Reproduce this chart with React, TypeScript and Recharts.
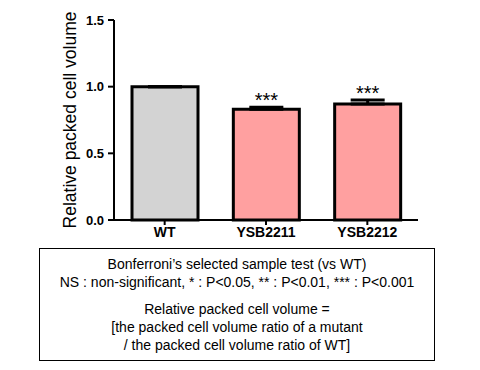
import * as React from "react";
import { BarChart, Bar, XAxis, YAxis, ErrorBar, LabelList, Label, Cell } from "recharts";

const strains = ["WT", "YSB2211", "YSB2212"];
const pcvValues = [1.0, 0.83, 0.87];
const pcvErrors = [0, 0.015, 0.03];
const significance = ["", "***", "***"];
const barColors = ["#d3d3d3", "#ffa0a0", "#ffa0a0"];
const yTicks = [0, 0.5, 1.0, 1.5];

const noteLines1 = [
  "Bonferroni\u2019s selected sample test (vs WT)",
  "NS : non-significant, * : P<0.05, ** : P<0.01, *** : P<0.001",
];
const noteLines2 = [
  "Relative packed cell volume =",
  "[the packed cell volume ratio of a mutant",
  "/ the packed cell volume ratio of WT]",
];

const chartData = strains.map((name, i) => ({
  name,
  value: pcvValues[i],
  err: [0, pcvErrors[i]],
  sig: significance[i],
}));

const font = "'Liberation Sans', Arial, sans-serif";

function StarLabel(props: any) {
  const { x, y, width, height, value, index } = props;
  if (!value) return null;
  const v = pcvValues[index];
  const errPx = (pcvErrors[index] / v) * height;
  return (
    <text
      x={x + width / 2}
      y={y - errPx}
      textAnchor="middle"
      fontFamily={font}
      fontSize={20}
      fill="#000"
    >
      {value}
    </text>
  );
}

export default function App() {
  return (
    <div style={{ position: "absolute", left: 0, top: 0, width: 480, height: 370, background: "#fff" }}>
      <BarChart
        width={480}
        height={250}
        data={chartData}
        margin={{ top: 20, right: 62, left: 0, bottom: 0 }}
        barSize={66}
      >
        <XAxis
          dataKey="name"
          height={30}
          axisLine={{ stroke: "#000", strokeWidth: 2 }}
          tickLine={{ stroke: "#000", strokeWidth: 2 }}
          tickSize={5}
          tick={{ fill: "#000", fontFamily: font, fontSize: 14, fontWeight: "bold" }}
        />
        <YAxis
          width={114}
          domain={[0, 1.5]}
          ticks={yTicks}
          tickFormatter={(v: number) => v.toFixed(1)}
          axisLine={{ stroke: "#000", strokeWidth: 2 }}
          tickLine={{ stroke: "#000", strokeWidth: 2 }}
          tickSize={6}
          tickMargin={4}
          tick={{ fill: "#000", fontFamily: font, fontSize: 13, fontWeight: "bold" }}
        >
          <Label
            value="Relative packed cell volume"
            angle={-90}
            position="center"
            dx={13}
            style={{ fill: "#000", fontFamily: font, fontSize: 17.5, textAnchor: "middle" }}
          />
        </YAxis>
        <Bar dataKey="value" stroke="#000" strokeWidth={3} isAnimationActive={false}>
          {chartData.map((d, i) => (
            <Cell key={d.name} fill={barColors[i]} />
          ))}
          <ErrorBar dataKey="err" width={17} stroke="#000" strokeWidth={3} direction="y" />
          <LabelList dataKey="sig" content={<StarLabel />} />
        </Bar>
      </BarChart>
      <div
        style={{
          position: "absolute",
          left: 39,
          top: 248,
          width: 396,
          height: 113,
          border: "1px solid #000",
          boxSizing: "border-box",
          fontFamily: font,
          fontSize: 14,
          color: "#000",
          textAlign: "center",
          lineHeight: "18px",
          paddingTop: 6,
        }}
      >
        {noteLines1.map((t) => (
          <div key={t}>{t}</div>
        ))}
        <div style={{ height: 9 }} />
        {noteLines2.map((t) => (
          <div key={t}>{t}</div>
        ))}
      </div>
    </div>
  );
}
